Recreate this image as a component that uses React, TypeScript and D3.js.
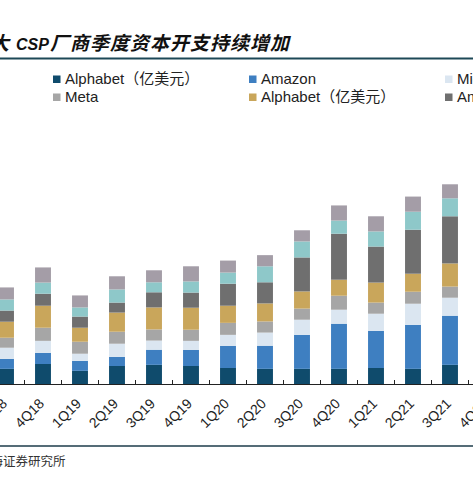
import React from "react";
import * as d3 from "d3";

const quarters = ["3Q18","4Q18","1Q19","2Q19","3Q19","4Q19","1Q20","2Q20","3Q20","4Q20","1Q21","2Q21","3Q21"];
const axisLabels = ["3Q18","4Q18","1Q19","2Q19","3Q19","4Q19","1Q20","2Q20","3Q20","4Q20","1Q21","2Q21","3Q21","4Q21"];

const seriesKeys = ["s0","s1","s2","s3","s4","s5","s6","s7"];
const seriesNames = ["Alphabet（亿美元）","Amazon","Microsoft","Meta","Alphabet（亿美元）","Amazon","Microsoft","Meta"];
const seriesColors = ["#0f4b6c","#3e7fc1","#dbe6f1","#a6a6a6","#c9a65b","#6f6f6f","#8ec8c9","#a49da7"];

const s0 = [53,70,46,63,67,63,56,53,53,53,56,53,67];
const s1 = [35,39,35,32,53,56,77,81,119,158,130,154,172];
const s2 = [39,42,25,46,32,32,39,46,53,49,60,74,63];
const s3 = [35,46,42,42,39,39,42,39,39,49,39,42,39];
const s4 = [56,77,49,67,77,77,60,63,60,56,70,63,81];
const s5 = [39,42,39,35,53,53,77,74,119,161,126,154,165];
const s6 = [39,39,32,46,35,39,39,56,56,46,53,63,63];
const s7 = [42,53,42,46,42,53,42,39,39,53,53,53,49];

// legend layout: [row, col] per series
const legendRow = [0,0,0,1,1,1,0,1];
const legendCol = [0,1,2,0,1,2,3,3];

export default function App() {
  const W = 473, H = 477;
  const baseY = 384;

  const rows = quarters.map((q, i) => ({
    q,
    s0: s0[i], s1: s1[i], s2: s2[i], s3: s3[i],
    s4: s4[i], s5: s5[i], s6: s6[i], s7: s7[i],
  }));
  const stacked = d3.stack<any>().keys(seriesKeys)(rows);

  const x = d3.scaleBand<string>()
    .domain(axisLabels)
    .range([-12.5, -12.5 + 37 * axisLabels.length])
    .paddingInner(0.57)
    .paddingOuter(0.285);
  const y = d3.scaleLinear().domain([0, 700]).range([baseY, baseY - 200]);

  const step = x.step();
  const tickXs = axisLabels.map((d) => (x(d) as number) + x.bandwidth() / 2 + step / 2);

  return (
    <svg width={W} height={H} style={{ display: "block", position: "absolute", left: 0, top: 0 }}>
      <rect width={W} height={H} fill="#ffffff" />
      {/* title */}
      <text y={50} fontFamily="'Noto Sans CJK SC', sans-serif" fontWeight="bold" fontStyle="italic" fill="#111">
        <tspan x={-10} fontSize={19}>大</tspan>
        <tspan x={16} fontSize={16} fontFamily="'Liberation Sans', Arial, sans-serif">CSP</tspan>
        <tspan x={50} fontSize={19} letterSpacing={1}>厂商季度资本开支持续增加</tspan>
      </text>
      <line x1={0} x2={W} y1={58.5} y2={58.5} stroke="#1d4857" strokeWidth={2} />

      {/* legend */}
      {seriesNames.map((name, i) => {
        const lx = 53 + legendCol[i] * 196;
        const ly = 79 + legendRow[i] * 18;
        return (
          <g key={i}>
            <rect x={lx} y={ly - 3.5} width={7.5} height={7.5} fill={seriesColors[i]} />
            <text x={lx + 12} y={ly} dy="0.35em" fontSize={15} fontFamily="'Liberation Sans', Arial, 'Noto Sans CJK SC', sans-serif" fill="#222">{name}</text>
          </g>
        );
      })}

      {/* bars */}
      {stacked.map((layer, si) => (
        <g key={layer.key} fill={seriesColors[si]}>
          {layer.map((d, j) => (
            <rect
              key={j}
              x={x(d.data.q) as number}
              y={y(d[1])}
              width={x.bandwidth()}
              height={y(d[0]) - y(d[1])}
            />
          ))}
        </g>
      ))}

      {/* x axis */}
      <line x1={0} x2={W} y1={baseY + 0.5} y2={baseY + 0.5} stroke="#222" strokeWidth={1.2} />
      {tickXs.map((tx, i) => (
        <line key={i} x1={tx} x2={tx} y1={baseY - 4} y2={baseY} stroke="#222" strokeWidth={1} />
      ))}
      {axisLabels.map((lab) => {
        const cx = (x(lab) as number) + x.bandwidth() / 2 + 2;
        const cy = 404.5;
        return (
          <text
            key={lab}
            x={cx}
            y={cy}
            transform={`rotate(-45 ${cx} ${cy})`}
            textAnchor="end"
            fontSize={14}
            fontFamily="'Liberation Sans', Arial, sans-serif"
            fill="#222"
          >
            {lab}
          </text>
        );
      })}

      <line x1={0} x2={W} y1={446} y2={446} stroke="#1d3b4a" strokeWidth={1.5} />
      <text x={-9.5} y={466} fontSize={12.5} fontFamily="'Noto Sans CJK SC', serif" fill="#333">海证券研究所</text>
    </svg>
  );
}
